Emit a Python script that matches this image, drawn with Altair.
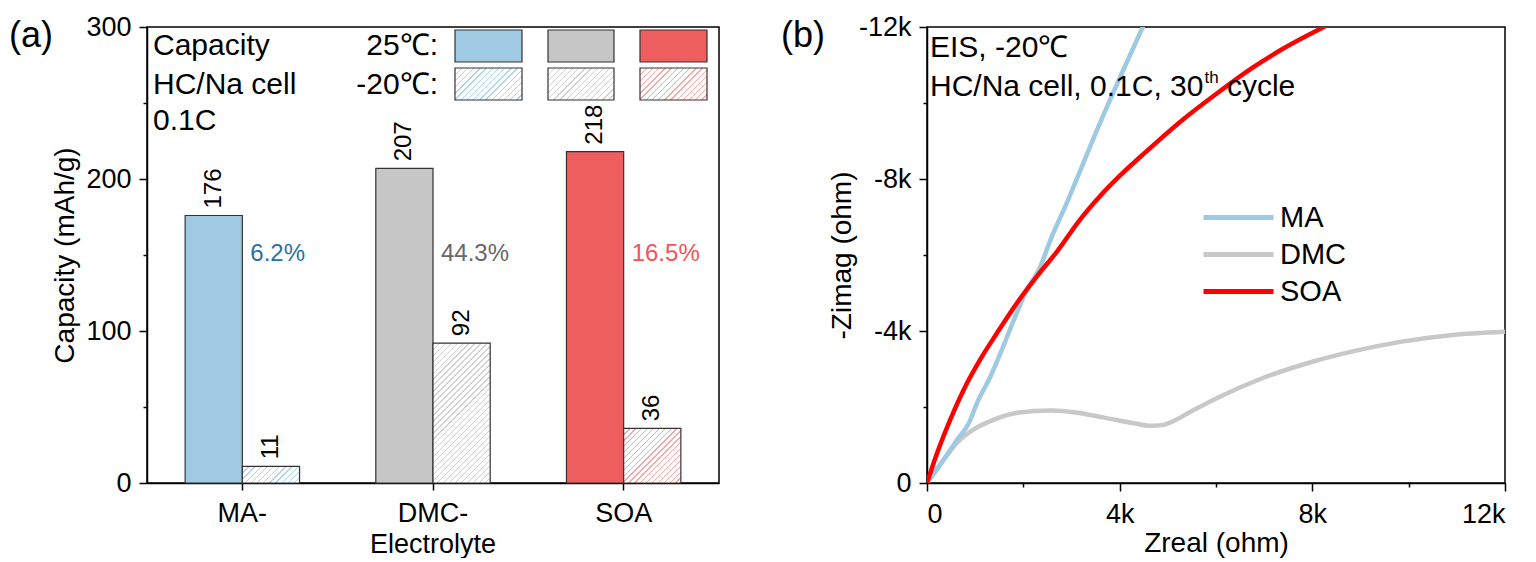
import altair as alt
import pandas as pd

# ---------------- Panel (a): capacity bars ----------------
categories = ["MA", "DMC", "SOA"]
tick_label_lines = [["MA-"], ["DMC-", "Electrolyte"], ["SOA"]]
temps = ["25℃", "-20℃"]
capacity_25 = [176, 207, 218]
capacity_m20 = [11, 92, 36]
retention_pct = ["6.2%", "44.3%", "16.5%"]
y_ticks_a = [0, 50, 100, 150, 200, 250, 300]

# ---------------- Panel (b): EIS Nyquist ----------------
series = ["MA", "DMC", "SOA"]
ma_zreal = [0, 350, 625, 870, 1040, 1320, 1530, 1810, 2080, 2330, 2570, 2930, 3100, 3500, 4480]
ma_zimag = [0, -620, -1140, -1580, -2110, -2810, -3430, -4310, -5100, -5630, -6420, -7450, -7970, -9200, -12000]
dmc_zreal = [0, 350, 625, 970, 1390, 1875, 2570, 3125, 3680, 4300, 4630, 4900, 5150, 5450, 6080, 6870,
             8000, 8860, 9860, 10860, 12000]
dmc_zimag = [0, -620, -1060, -1410, -1670, -1850, -1910, -1850, -1720, -1570, -1505, -1530, -1650, -1860,
             -2270, -2710, -3190, -3470, -3720, -3890, -3980]
soa_zreal = [0, 210, 490, 760, 1100, 1460, 1875, 2290, 2710, 3170, 3600, 4000, 4550, 5310, 6100, 6760,
             7380, 8240]
soa_zimag = [0, -790, -1690, -2450, -3240, -3960, -4750, -5450, -6110, -6920, -7560, -8080, -8720, -9560,
             -10330, -10930, -11420, -12000]
axis_ticks_b = [0, 2000, 4000, 6000, 8000, 10000, 12000]

# ---------------- styles / layout ----------------
bar_colors = ["#9fcae2", "#c6c6c6", "#ef5e5e"]
hatch_colors = ["#acd4ea", "#d2d2d2", "#f7a5a5"]
pct_colors = ["#2c6fa6", "#686868", "#f25555"]
line_colors = ["#9ecae1", "#c8c8c8", "#ff0000"]
FONT = "Liberation Sans"
W_A, W_B, H = 572, 578, 456
BAR_W = W_A / (3 - 0.4 + 0.4) * 0.6 / 2


def hatch(color, w, h, spacing=6.0, frac=0.22):
    a, b = 1.0 / h, 1.0 / w
    s = (a + b) / (a * a + b * b)
    vx, vy = s * a, s * b
    n = max(1, round(w * (vx * vx + vy * vy) / (vx * spacing)))
    stops = []
    for k in range(n):
        p0, p1, p2 = k / n, (k + frac) / n, (k + 1) / n
        stops += [alt.GradientStop(offset=p0, color=color), alt.GradientStop(offset=p1, color=color),
                  alt.GradientStop(offset=p1, color="white"), alt.GradientStop(offset=p2, color="white")]
    return alt.LinearGradient(gradient="linear", stops=stops, x1=0, y1=0, x2=vx, y2=vy)


ARIAL = {"H": .722, "C": .722, "/": .278, "N": .722, "a": .556, " ": .278, "c": .5, "e": .556, "l": .222,
         ",": .278, "0": .556, ".": .278, "1": .556, "3": .556, "t": .278, "h": .556, "y": .5}


def text_w(s, size):
    return sum(ARIAL.get(ch, .556) for ch in s) * size


one = pd.DataFrame({"k": [0]})


def label(txt, x, y, size=30, align="left", baseline="alphabetic", font=FONT, color="black"):
    return alt.Chart(one).mark_text(text=txt, align=align, baseline=baseline, fontSize=size, font=font,
                                    color=color).encode(x=alt.value(x), y=alt.value(y))


# ---------- panel (a) ----------
bars_df = pd.DataFrame({
    "category": categories * 2,
    "temp": [temps[0]] * 3 + [temps[1]] * 3,
    "capacity": capacity_25 + capacity_m20,
})
pct_df = pd.DataFrame({"category": categories, "pct": retention_pct})

label_expr_a = " : ".join(
    f"datum.value == '{c}' ? {lines}" for c, lines in zip(categories[:-1], tick_label_lines[:-1])
) + f" : {tick_label_lines[-1]}"

x_a = alt.X("category:N", scale=alt.Scale(domain=categories, paddingInner=0.4, paddingOuter=0.2),
            axis=alt.Axis(title=None, labelAngle=0, tickSize=7, labelPadding=10, labelExpr=label_expr_a,
                          labelLineHeight=31, labelBaseline="top"))
xo_a = alt.XOffset("temp:N", scale=alt.Scale(domain=temps, paddingInner=0, paddingOuter=0))
y_a = alt.Y("capacity:Q", scale=alt.Scale(domain=[0, 300], nice=False),
            axis=alt.Axis(values=y_ticks_a, title="Capacity (mAh/g)", labelPadding=8, titlePadding=6,
                          labelExpr="datum.value % 100 != 0 ? '' : datum.label",
                          tickSize={"condition": {"test": "datum.value % 100 != 0", "value": 4}, "value": 8}))

base_a = alt.Chart(bars_df)
layers_a = [
    base_a.transform_filter(alt.datum.temp == temps[0]).mark_bar(stroke="#333333", strokeWidth=1.2).encode(
        x=x_a, xOffset=xo_a, y=y_a,
        fill=alt.Fill("category:N", scale=alt.Scale(domain=categories, range=bar_colors), legend=None)),
]
for c, v, hc in zip(categories, capacity_m20, hatch_colors):
    layers_a.append(
        base_a.transform_filter((alt.datum.temp == temps[1]) & (alt.datum.category == c))
        .mark_bar(stroke="#333333", strokeWidth=1.2, fill=hatch(hc, BAR_W, v * H / 300.0))
        .encode(x=x_a, xOffset=xo_a, y=y_a))
# rotated value labels: dx runs along the (rotated) text direction, i.e. upward
layers_a.append(
    base_a.mark_text(angle=270, align="left", baseline="middle", dx=7, fontSize=24, font=FONT,
                     color="black").encode(x=x_a, xOffset=xo_a, y=y_a, text="capacity:Q"))
layers_a.append(
    alt.Chart(pct_df).mark_text(align="left", baseline="middle", dx=8, fontSize=24, font=FONT).encode(
        x=x_a, y=alt.value(227), text="pct:N",
        color=alt.Color("category:N", scale=alt.Scale(domain=categories, range=pct_colors), legend=None)))

# legend swatches (layout only)
sw_x = [(308, 375), (401, 467), (493, 560)]
sw_y = [(3, 35), (41, 73)]
for (x0, x1), col, hc in zip(sw_x, bar_colors, hatch_colors):
    layers_a.append(alt.Chart(one).mark_rect(fill=col, stroke="#333333", strokeWidth=1.2).encode(
        x=alt.value(x0), x2=alt.value(x1), y=alt.value(sw_y[0][0]), y2=alt.value(sw_y[0][1])))
    layers_a.append(alt.Chart(one).mark_rect(fill=hatch(hc, x1 - x0, sw_y[1][1] - sw_y[1][0]),
                                             stroke="#333333", strokeWidth=1.2).encode(
        x=alt.value(x0), x2=alt.value(x1), y=alt.value(sw_y[1][0]), y2=alt.value(sw_y[1][1])))

layers_a += [
    label("Capacity", 6, 28),
    label("HC/Na cell", 6, 67),
    label("0.1C", 6, 103),
    label(temps[0] + ":", 291, 28, align="right"),
    label(temps[1] + ":", 291, 67, align="right"),
    label("(a)", -138, 9, size=36, baseline="middle"),
]
panel_a = alt.layer(*layers_a).properties(width=W_A, height=H)

# ---------- panel (b) ----------
eis_df = pd.concat([
    pd.DataFrame({"series": "DMC", "zreal": dmc_zreal, "zimag": dmc_zimag}),
    pd.DataFrame({"series": "MA", "zreal": ma_zreal, "zimag": ma_zimag}),
    pd.DataFrame({"series": "SOA", "zreal": soa_zreal, "zimag": soa_zimag}),
], ignore_index=True)

k_expr = "datum.value % 4000 != 0 ? '' : (datum.value == 0 ? '0' : (datum.value / 1000) + 'k')"
minor = {"condition": {"test": "datum.value % 4000 != 0", "value": 4}, "value": 8}
x_b = alt.X("zreal:Q", scale=alt.Scale(domain=[0, 12000], nice=False),
            axis=alt.Axis(values=axis_ticks_b, labelExpr=k_expr, title="Zreal (ohm)", tickSize=minor,
                          labelPadding=10, titlePadding=2))
y_b = alt.Y("zimag:Q", scale=alt.Scale(domain=[0, -12000], nice=False),
            axis=alt.Axis(values=[-v for v in axis_ticks_b], labelExpr=k_expr, title="-Zimag (ohm)",
                          tickSize=minor, labelPadding=8, titlePadding=2))

lines_b = alt.Chart(eis_df).mark_line(strokeWidth=4.5, interpolate="monotone", strokeCap="round",
                                      clip=True).encode(
    x=x_b, y=y_b,
    stroke=alt.Stroke("series:N", scale=alt.Scale(domain=series, range=line_colors),
                      legend=alt.Legend(orient="none", legendX=274, legendY=172, symbolType="stroke",
                                        symbolSize=4900, symbolStrokeWidth=5, labelFontSize=29,
                                        labelFont=FONT, labelColor="black", title=None, clipHeight=37,
                                        rowPadding=0, labelOffset=4, padding=0)),
)

line2 = "HC/Na cell, 0.1C, 30"
sup_x = 3 + text_w(line2, 30) + 1
layers_b = [
    lines_b,
    label("EIS, " + temps[1], 3, 30),
    label(line2, 3, 69),
    label("th", sup_x, 56, size=17),
    label("cycle", sup_x + text_w("th", 17) + text_w(" ", 30), 69),
    label("(b)", -146, 9, size=36, baseline="middle"),
]
panel_b = alt.layer(*layers_b).properties(width=W_B, height=H)

chart = (
    alt.hconcat(panel_a, panel_b, spacing=60)
    .resolve_scale(color="independent", fill="independent", stroke="independent")
    .properties(padding={"top": 4, "left": 0, "right": 0, "bottom": 0}, background="white")
    .configure_view(stroke="black", strokeWidth=1.5)
    .configure_axis(labelFont=FONT, titleFont=FONT, labelFontSize=27, titleFontSize=28, labelColor="black",
                    titleColor="black", domainColor="black", tickColor="black", domainWidth=1.5,
                    tickWidth=1.5, grid=False, titleFontWeight="normal")
)

chart.save("out.html", embed_options={"renderer": "svg", "actions": False})
